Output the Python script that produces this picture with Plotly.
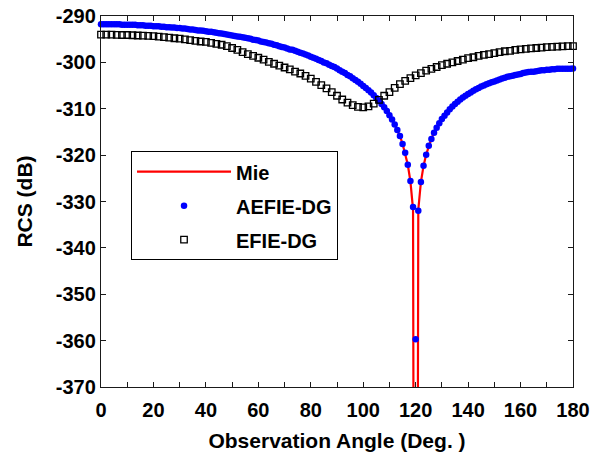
import plotly.graph_objects as go

# ---------------- data ----------------
angle_1deg = list(range(0, 181))          # observation angle, 1 deg step
angle_2deg = list(range(0, 181, 2))       # observation angle, 2 deg step

mie_db = [
    -291.80, -291.80, -291.80, -291.81, -291.81, -291.82, -291.83, -291.84, -291.86, -291.87,
    -291.89, -291.91, -291.93, -291.95, -291.97, -292.00, -292.03, -292.06, -292.09, -292.12,
    -292.16, -292.19, -292.23, -292.27, -292.32, -292.36, -292.41, -292.46, -292.51, -292.56,
    -292.61, -292.67, -292.73, -292.79, -292.85, -292.92, -292.98, -293.05, -293.12, -293.20,
    -293.27, -293.35, -293.43, -293.51, -293.60, -293.69, -293.78, -293.87, -293.96, -294.06,
    -294.16, -294.27, -294.37, -294.48, -294.59, -294.71, -294.82, -294.94, -295.07, -295.19,
    -295.32, -295.46, -295.59, -295.73, -295.87, -296.02, -296.17, -296.33, -296.49, -296.65,
    -296.82, -296.99, -297.16, -297.34, -297.53, -297.72, -297.92, -298.12, -298.32, -298.54,
    -298.75, -298.98, -299.21, -299.45, -299.69, -299.95, -300.21, -300.48, -300.76, -301.04,
    -301.34, -301.65, -301.97, -302.30, -302.65, -303.01, -303.38, -303.77, -304.18, -304.60,
    -305.05, -305.52, -306.01, -306.54, -307.09, -307.67, -308.30, -308.98, -309.70, -310.49,
    -311.35, -312.30, -313.36, -314.55, -315.92, -317.55, -319.53, -322.07, -325.64, -331.69,
    -600.00, -331.78, -325.80, -322.33, -319.88, -317.99, -316.45, -315.17, -314.06, -313.09,
    -312.23, -311.46, -310.76, -310.12, -309.54, -309.00, -308.50, -308.04, -307.60, -307.20,
    -306.82, -306.47, -306.13, -305.82, -305.52, -305.24, -304.98, -304.73, -304.49, -304.26,
    -304.05, -303.85, -303.66, -303.48, -303.31, -303.14, -302.99, -302.85, -302.71, -302.58,
    -302.46, -302.34, -302.24, -302.14, -302.04, -301.96, -301.87, -301.80, -301.73, -301.67,
    -301.61, -301.56, -301.51, -301.47, -301.44, -301.41, -301.39, -301.37, -301.35, -301.35,
    -301.34,
]

aefie_db = [
    -291.8, -291.8, -291.8, -291.8, -291.8, -291.8, -291.8, -291.8, -291.9, -291.9,
    -291.9, -291.9, -291.9, -291.9, -292.0, -292.0, -292.0, -292.1, -292.1, -292.1,
    -292.2, -292.2, -292.2, -292.3, -292.3, -292.4, -292.4, -292.5, -292.5, -292.6,
    -292.6, -292.7, -292.7, -292.8, -292.9, -292.9, -293.0, -293.1, -293.1, -293.2,
    -293.3, -293.4, -293.4, -293.5, -293.6, -293.7, -293.8, -293.9, -294.0, -294.1,
    -294.2, -294.3, -294.4, -294.5, -294.6, -294.7, -294.8, -294.9, -295.1, -295.2,
    -295.3, -295.5, -295.6, -295.7, -295.9, -296.0, -296.2, -296.3, -296.5, -296.7,
    -296.8, -297.0, -297.2, -297.3, -297.5, -297.7, -297.9, -298.1, -298.3, -298.5,
    -298.8, -299.0, -299.2, -299.5, -299.7, -300.0, -300.2, -300.5, -300.8, -301.0,
    -301.3, -301.7, -302.0, -302.3, -302.7, -303.0, -303.4, -303.8, -304.2, -304.6,
    -305.1, -305.5, -306.0, -306.5, -307.1, -307.7, -308.3, -309.0, -309.7, -310.5,
    -311.4, -312.3, -313.4, -314.6, -315.9, -317.6, -319.5, -322.1, -325.6, -331.2,
    -359.7, -332.0, -325.8, -322.3, -319.9, -318.0, -316.5, -315.2, -314.1, -313.1,
    -312.2, -311.5, -310.8, -310.1, -309.5, -309.0, -308.5, -308.0, -307.6, -307.2,
    -306.8, -306.5, -306.1, -305.8, -305.5, -305.2, -305.0, -304.7, -304.5, -304.3,
    -304.1, -303.9, -303.7, -303.5, -303.3, -303.1, -303.0, -302.9, -302.7, -302.6,
    -302.5, -302.3, -302.2, -302.1, -302.0, -302.0, -301.9, -301.8, -301.7, -301.7,
    -301.6, -301.6, -301.5, -301.5, -301.4, -301.4, -301.4, -301.4, -301.4, -301.4,
    -301.3,
]

efie_db = [
    -294.0, -294.0, -294.0, -294.05, -294.1, -294.1, -294.15, -294.2, -294.25, -294.3,
    -294.35, -294.45, -294.55, -294.65, -294.8, -294.9, -295.05, -295.2, -295.35, -295.5,
    -295.6, -295.8, -296.0, -296.2, -296.5, -296.9, -297.3, -297.8, -298.2, -298.6,
    -299.0, -299.4, -299.9, -300.3, -300.7, -301.1, -301.5, -302.0, -302.4, -302.9,
    -303.5, -304.2, -304.9, -305.6, -306.4, -307.2, -308.0, -308.7, -309.2, -309.6,
    -309.7, -309.5, -308.9, -308.1, -307.2, -306.4, -305.5, -304.7, -304.0, -303.4,
    -302.8, -302.3, -301.8, -301.4, -301.0, -300.6, -300.3, -300.0, -299.7, -299.4,
    -299.1, -298.9, -298.6, -298.4, -298.2, -298.0, -297.8, -297.6, -297.5, -297.3,
    -297.2, -297.1, -297.0, -296.9, -296.8, -296.7, -296.65, -296.6, -296.55, -296.5,
    -296.5,
]

x_tick_vals = [0, 20, 40, 60, 80, 100, 120, 140, 160, 180]
x_tick_text = ["0", "20", "40", "60", "80", "100", "120", "140", "160", "180"]
y_tick_vals = [-370, -360, -350, -340, -330, -320, -310, -300, -290]
y_tick_text = ["-370", "-360", "-350", "-340", "-330", "-320", "-310", "-300", "-290"]

series_names = ["Mie", "AEFIE-DG", "EFIE-DG"]

# ---------------- figure ----------------
FONT = "Liberation Sans, Arial, sans-serif"
AX = "#1a1a1a"

fig = go.Figure()
fig.add_trace(go.Scatter(
    x=angle_1deg, y=mie_db, name=series_names[0], mode="lines",
    line=dict(color="#ff0000", width=2.2), legendgroup="a",
))
fig.add_trace(go.Scatter(
    x=angle_1deg, y=aefie_db, name=series_names[1], mode="markers",
    marker=dict(color="#0000ff", size=6.5, line=dict(width=0)),
    cliponaxis=False, legendgroup="b",
))
fig.add_trace(go.Scatter(
    x=angle_2deg, y=efie_db, name=series_names[2], mode="markers",
    marker=dict(symbol="square-open", color="#000000", size=6.5, line=dict(width=1.3, color="#000000")),
    cliponaxis=False, legendgroup="c",
))

axis_common = dict(
    showline=True, linecolor=AX, linewidth=1.3, mirror="ticks",
    ticks="inside", ticklen=5, tickwidth=1.3, tickcolor=AX,
    showgrid=False, zeroline=False, automargin=False,
    ticklabeloverflow="allow",
    tickfont=dict(family=FONT, size=20, color="#000000", weight="bold"),
)

fig.update_xaxes(
    range=[0, 180], tickvals=x_tick_vals, ticktext=x_tick_text,
    minor=dict(dtick=10, ticks="inside", ticklen=5, tickwidth=1.3, tickcolor=AX),
    ticklabelstandoff=5,
    title=dict(text="Observation Angle (Deg. )", font=dict(family=FONT, size=21, color="#000000", weight="bold"), standoff=13),
    **axis_common,
)
fig.update_yaxes(
    range=[-370, -290], tickvals=y_tick_vals, ticktext=y_tick_text,
    title=dict(text="RCS (dB)", font=dict(family=FONT, size=21, color="#000000", weight="bold"), standoff=17),
    **axis_common,
)

fig.update_layout(
    width=605, height=452,
    margin=dict(l=101, r=32, t=16, b=65),
    paper_bgcolor="white", plot_bgcolor="white",
    showlegend=True,
    legend=dict(
        x=0.0636, y=0.6356, xanchor="left", yanchor="top",
        bgcolor="white", bordercolor="#000000", borderwidth=1,
        font=dict(family=FONT, size=20, color="#000000", weight="bold"),
        itemwidth=94, tracegroupgap=5,
    ),
)

# remove the browser's default 8px body margin so the figure sits at the page corner
fig.write_html(
    "out.html",
    config={"displayModeBar": False},
    post_script="document.body.style.margin='0';",
)
